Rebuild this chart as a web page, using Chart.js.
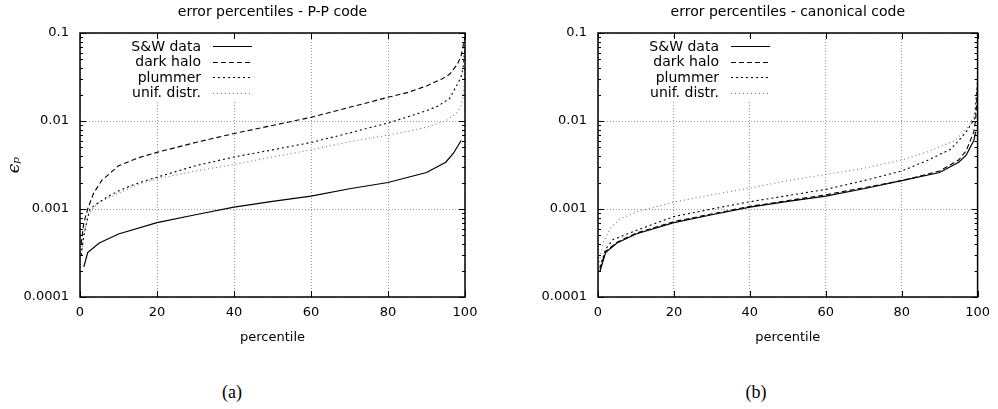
<!DOCTYPE html>
<html><head><meta charset="utf-8">
<script src="https://cdn.jsdelivr.net/npm/chart.js@4.4.1/dist/chart.umd.min.js"></script>
<style>
html,body{margin:0;padding:0;background:#fff;width:998px;height:409px;overflow:hidden}
#wrap{position:relative;width:998px;height:409px;background:#fff}
canvas{position:absolute;top:0}
.sub{position:absolute;font:18px "Liberation Serif","DejaVu Serif",serif;color:#000;transform:translate(-50%,-50%);top:392px}
</style></head><body>
<div id="wrap">
<canvas id="c1" width="500" height="360" style="left:0;width:500px;height:360px"></canvas>
<canvas id="c2" width="498" height="360" style="left:500px;width:498px;height:360px"></canvas>
<div class="sub" style="left:232px">(a)</div>
<div class="sub" style="left:756px">(b)</div>
</div>
<script>
// ---- data ----
const seriesLabels = ['S&W data', 'dark halo', 'plummer', 'unif. distr.'];
const chartTitles = ['error percentiles - P-P code', 'error percentiles - canonical code'];
const xTitle = 'percentile';
const yTitle = 'ϵₚ';
const xTickValues = [0, 20, 40, 60, 80, 100];
const yTickValues = [0.0001, 0.001, 0.01, 0.1];
const yTickLabels = ['0.0001', '0.001', '0.01', '0.1'];

// (a) P-P code
const ppSwX = [1, 2, 5, 10, 20, 30, 40, 50, 60, 70, 80, 90, 95, 97, 99];
const ppSwY = [0.00022, 0.00032, 0.00041, 0.00052, 0.0007, 0.00086, 0.00105, 0.00122, 0.0014, 0.0017, 0.002, 0.0026, 0.0034, 0.0043, 0.006];
const ppHaloX = [0.3, 1, 2, 3.5, 5.6, 10, 15, 20, 30, 40, 50, 60, 70, 80, 85, 90, 92, 94, 96, 98, 99, 99.6, 100];
const ppHaloY = [0.0004, 0.0007, 0.001, 0.0015, 0.0021, 0.0031, 0.0038, 0.0044, 0.0057, 0.0072, 0.0089, 0.011, 0.0143, 0.0186, 0.021, 0.025, 0.0275, 0.030, 0.034, 0.044, 0.055, 0.075, 0.09];
const ppPlumX = [0.3, 1, 2, 2.6, 4.3, 7.4, 10, 14, 20, 30, 40, 50, 60, 70, 80, 85, 90, 93, 96, 98, 99, 99.5, 99.8, 100];
const ppPlumY = [0.0003, 0.0005, 0.0008, 0.001, 0.00114, 0.0014, 0.0016, 0.0019, 0.0023, 0.0031, 0.0039, 0.0047, 0.0057, 0.0073, 0.0095, 0.0111, 0.0131, 0.0148, 0.018, 0.026, 0.032, 0.04, 0.056, 0.065];
const ppUnifX = [0.3, 1, 2, 3, 5, 10, 15, 20, 30, 40, 50, 60, 70, 80, 85, 90, 95, 98, 99, 99.5, 99.8, 100];
const ppUnifY = [0.0003, 0.0005, 0.0008, 0.00098, 0.0012, 0.0015, 0.0019, 0.0022, 0.0027, 0.0032, 0.0039, 0.0047, 0.0058, 0.0069, 0.0076, 0.0085, 0.010, 0.0125, 0.015, 0.019, 0.028, 0.04];

// (b) canonical code
const cnSwX = [0.5, 2, 5, 10, 20, 30, 40, 50, 60, 70, 80, 90, 95, 97, 99, 99.5];
const cnSwY = [0.000195, 0.00032, 0.00041, 0.00052, 0.0007, 0.00086, 0.00105, 0.00122, 0.0014, 0.0017, 0.0021, 0.0026, 0.0034, 0.0041, 0.006, 0.0075];
const cnHaloX = [0.5, 2, 5, 10, 20, 40, 60, 80, 90, 95, 97, 99, 99.5, 100];
const cnHaloY = [0.00021, 0.00033, 0.00042, 0.00053, 0.00072, 0.00107, 0.00145, 0.0021, 0.0027, 0.0036, 0.0046, 0.0075, 0.0105, 0.025];
const cnPlumX = [0.5, 2, 4, 10, 20, 30, 40, 50, 60, 70, 80, 87, 93, 97, 99.2, 100];
const cnPlumY = [0.00022, 0.00035, 0.00045, 0.00057, 0.00082, 0.001, 0.00121, 0.00142, 0.00167, 0.0021, 0.0027, 0.0036, 0.0048, 0.0075, 0.0106, 0.03];
const cnUnifX = [0.3, 1.4, 3.1, 5.7, 10, 20, 30, 40, 50, 60, 70, 80, 87, 94, 97.5, 99.6, 100];
const cnUnifY = [0.00025, 0.00042, 0.00059, 0.00077, 0.00092, 0.0012, 0.00145, 0.00173, 0.0021, 0.00247, 0.0029, 0.0036, 0.0045, 0.006, 0.0085, 0.0126, 0.018];

// ---- build ----
const zip = (xs, ys) => xs.map((x, i) => ({x: x, y: ys[i]}));
const lineStyles = [
  {borderColor: '#000', borderDash: [], borderWidth: 1.2},
  {borderColor: '#000', borderDash: [5, 3], borderWidth: 1.1},
  {borderColor: '#000', borderDash: [2, 3], borderWidth: 1.1},
  {borderColor: '#777', borderDash: [1, 3], borderWidth: 1.1}
];
function makeDatasets(sets) {
  return sets.map((pts, i) => Object.assign({
    label: seriesLabels[i], data: pts, pointRadius: 0, tension: 0, fill: false, borderCapStyle: 'butt'
  }, lineStyles[i]));
}

const keyPlugin = {
  id: 'key',
  afterDraw(chart) {
    const {ctx, chartArea: a} = chart;
    ctx.save();
    ctx.fillStyle = '#fff';
    ctx.fillRect(a.left + 48, a.top + 5, 130, 62);
    ctx.font = '14px "DejaVu Sans"';
    ctx.textAlign = 'right';
    ctx.textBaseline = 'middle';
    chart.data.datasets.forEach((ds, i) => {
      const y = a.top + 13 + i * 15.5;
      ctx.fillStyle = '#000';
      ctx.fillText(ds.label, a.left + 121, y + 1);
      ctx.beginPath();
      ctx.strokeStyle = ds.borderColor;
      ctx.lineWidth = ds.borderWidth;
      ctx.setLineDash(ds.borderDash);
      ctx.moveTo(a.left + 133, Math.round(y) + 0.5);
      ctx.lineTo(a.left + 172, Math.round(y) + 0.5);
      ctx.stroke();
    });
    ctx.restore();
  }
};

const framePlugin = {
  id: 'frame',
  afterDraw(chart) {
    const {ctx, chartArea: a, scales: {x, y}} = chart;
    ctx.save();
    ctx.strokeStyle = '#000';
    ctx.lineWidth = 1;
    ctx.setLineDash([]);
    ctx.beginPath();
    for (const v of xTickValues) {
      const px = Math.round(x.getPixelForValue(v)) + 0.5;
      ctx.moveTo(px, a.bottom); ctx.lineTo(px, a.bottom - 6);
      ctx.moveTo(px, a.top); ctx.lineTo(px, a.top + 6);
    }
    for (let e = -4; e <= -1; e++) {
      for (let m = 1; m < 10; m++) {
        if (e === -1 && m > 1) break;
        const v = m * Math.pow(10, e);
        const len = m === 1 ? 6 : 3;
        const py = Math.round(y.getPixelForValue(v)) + 0.5;
        ctx.moveTo(a.left, py); ctx.lineTo(a.left + len, py);
        ctx.moveTo(a.right, py); ctx.lineTo(a.right - len, py);
      }
    }
    ctx.stroke();
    ctx.lineWidth = 1.5;
    ctx.strokeRect(a.left, a.top, a.right - a.left, a.bottom - a.top);
    ctx.restore();
  }
};

function makeChart(id, title, sets, yAxisWidth, rightPad, showYTitle) {
  return new Chart(document.getElementById(id), {
    type: 'line',
    data: {datasets: makeDatasets(sets)},
    plugins: [keyPlugin, framePlugin],
    options: {
      responsive: false, animation: false, devicePixelRatio: 1,
      parsing: true,
      layout: {padding: {left: 0, right: rightPad, top: 0, bottom: 0}},
      plugins: {
        legend: {display: false},
        tooltip: {enabled: false},
        title: {
          display: true, text: title, fullSize: false, color: '#000',
          font: {family: 'DejaVu Sans', size: 14, weight: 'normal'},
          padding: {top: 4, bottom: 12.2}
        }
      },
      scales: {
        x: {
          type: 'linear', min: 0, max: 100,
          afterFit: s => { s.height = 63; },
          ticks: {stepSize: 20, color: '#000', padding: 8, font: {family: 'DejaVu Sans', size: 13}, maxRotation: 0},
          grid: {color: '#999', lineWidth: 1, drawTicks: false},
          border: {display: false, dash: [1, 2]},
          title: {display: true, text: xTitle, color: '#000', font: {family: 'DejaVu Sans', size: 13}, padding: {top: 0, bottom: 15}}
        },
        y: {
          type: 'logarithmic', min: 0.0001, max: 0.1,
          afterFit: s => { s.width = yAxisWidth; },
          afterBuildTicks: s => { s.ticks = yTickValues.map(v => ({value: v})); },
          ticks: {
            color: '#000', padding: 11, font: {family: 'DejaVu Sans', size: 13},
            callback: v => { const i = yTickValues.findIndex(t => Math.abs(t - v) / t < 1e-6); return i >= 0 ? yTickLabels[i] : ''; }
          },
          grid: {color: '#999', lineWidth: 1, drawTicks: false},
          border: {display: false, dash: [1, 2]},
          title: {display: showYTitle, text: yTitle, color: '#000', font: {family: 'DejaVu Serif', size: 17, style: 'italic'}, padding: {top: 4, bottom: 0}}
        }
      }
    }
  });
}

makeChart('c1', chartTitles[0], [zip(ppSwX, ppSwY), zip(ppHaloX, ppHaloY), zip(ppPlumX, ppPlumY), zip(ppUnifX, ppUnifY)], 80, 35, true);
makeChart('c2', chartTitles[1], [zip(cnSwX, cnSwY), zip(cnHaloX, cnHaloY), zip(cnPlumX, cnPlumY), zip(cnUnifX, cnUnifY)], 98, 15, false);
</script>
</body></html>
